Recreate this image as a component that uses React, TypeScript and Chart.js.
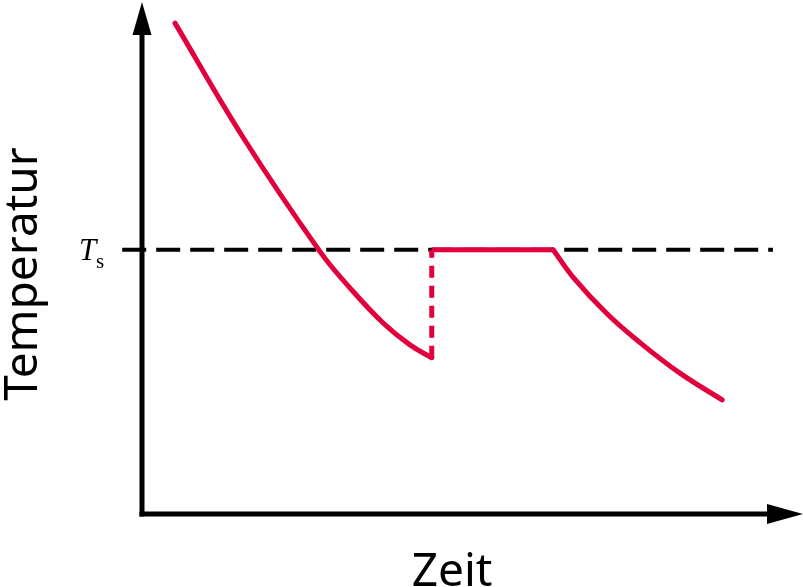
import React, { useEffect, useRef } from "react";
import { Chart, registerables } from "chart.js";

Chart.register(...registerables);

// Cooling curve with supercooling (arbitrary units: time 0..100, temperature 0..100)
const coolingTime = [5.0, 15.3, 27.0, 31.5, 36.5, 40.6, 43.9];
const coolingTemp = [95.5, 73.3, 51.0, 44.0, 37.2, 32.9, 30.4];

const solidificationTemp = 51.4; // T_s
const jumpTime = 43.9;
const plateauEndTime = 62.3;

const afterTime = [62.3, 65.3, 70.5, 75.5, 81.5, 87.9];
const afterTemp = [51.4, 46.1, 38.9, 33.3, 27.4, 22.2];

const tsLineTime = [-3.0, 95.6];

const xAxisTitle = "Zeit";
const yAxisTitle = "Temperatur";
const tsLabelMain = "T";
const tsLabelSub = "s";

const RED = "#e2003c";

const toPoints = (xs: number[], ys: number[]) => xs.map((x, i) => ({ x, y: ys[i] }));

const axesPlugin = {
  id: "arrowAxes",
  afterDatasetsDraw(chart: any) {
    const ctx: CanvasRenderingContext2D = chart.ctx;
    const xs = chart.scales.x;
    const ys = chart.scales.y;
    const ox = xs.getPixelForValue(0);
    const oy = ys.getPixelForValue(0);
    const lw = 5;
    ctx.save();
    ctx.strokeStyle = "#000";
    ctx.fillStyle = "#000";
    ctx.lineWidth = lw;
    ctx.lineCap = "butt";
    // y axis
    ctx.beginPath();
    ctx.moveTo(ox, oy + lw / 2);
    ctx.lineTo(ox, 30);
    ctx.stroke();
    ctx.beginPath();
    ctx.moveTo(ox, 2);
    ctx.lineTo(ox - 9.5, 35);
    ctx.lineTo(ox + 9.5, 35);
    ctx.closePath();
    ctx.fill();
    // x axis
    ctx.beginPath();
    ctx.moveTo(ox - lw / 2, oy);
    ctx.lineTo(770, oy);
    ctx.stroke();
    ctx.beginPath();
    ctx.moveTo(803, oy);
    ctx.lineTo(767, oy - 10);
    ctx.lineTo(767, oy + 10);
    ctx.closePath();
    ctx.fill();

    // axis titles
    ctx.font = '46px "Noto Sans"';
    ctx.textAlign = "center";
    ctx.textBaseline = "alphabetic";
    ctx.fillText(xAxisTitle, 452, 586);
    ctx.save();
    ctx.translate(37, 274);
    ctx.rotate(-Math.PI / 2);
    ctx.fillText(yAxisTitle, 0, 0);
    ctx.restore();

    // T_s label
    const ty = ys.getPixelForValue(solidificationTemp);
    ctx.textAlign = "left";
    ctx.font = 'italic 31px "Liberation Serif"';
    ctx.fillText(tsLabelMain, 79, ty + 10);
    ctx.font = '21px "Liberation Serif"';
    ctx.fillText(tsLabelSub, 96, ty + 18);
    ctx.restore();
  },
};

export default function App() {
  const ref = useRef<HTMLCanvasElement | null>(null);
  useEffect(() => {
    if (!ref.current) return;
    const chart = new Chart(ref.current, {
      type: "line",
      data: {
        datasets: [
          {
            data: toPoints(coolingTime, coolingTemp),
            borderColor: RED,
            borderWidth: 5,
            borderCapStyle: "round",
            tension: 0.4,
            pointRadius: 0,
            clip: false as any,
            order: 1,
          },
          {
            data: toPoints([jumpTime, jumpTime], [coolingTemp[coolingTemp.length - 1], solidificationTemp]),
            borderColor: RED,
            borderWidth: 5,
            borderDash: [12, 8],
            pointRadius: 0,
            clip: false as any,
            order: 1,
          },
          {
            data: toPoints([jumpTime, plateauEndTime], [solidificationTemp, solidificationTemp]),
            borderColor: RED,
            borderWidth: 5,
            borderDash: [],
            borderCapStyle: "butt",
            pointRadius: 0,
            clip: false as any,
            order: 0,
          },
          {
            data: toPoints(afterTime, afterTemp),
            borderColor: RED,
            borderWidth: 5,
            borderCapStyle: "round",
            tension: 0.4,
            pointRadius: 0,
            clip: false as any,
            order: 1,
          },
          {
            data: toPoints(tsLineTime, [solidificationTemp, solidificationTemp]),
            borderColor: "#000",
            borderWidth: 4,
            borderDash: [24, 10],
            pointRadius: 0,
            clip: false as any,
            order: 5,
          },
        ],
      },
      options: {
        animation: false,
        responsive: false,
        devicePixelRatio: 1,
        layout: { padding: { left: 142, right: 1, top: 0, bottom: 73 } },
        plugins: { legend: { display: false }, tooltip: { enabled: false } },
        scales: {
          x: { type: "linear", min: 0, max: 100, display: false },
          y: { type: "linear", min: 0, max: 100, display: false },
        },
      },
      plugins: [axesPlugin],
    });
    return () => chart.destroy();
  }, []);
  return (
    <div style={{ position: "fixed", left: 0, top: 0, width: 803, height: 587, background: "#fff" }}>
      <canvas ref={ref} width={803} height={587} style={{ width: 803, height: 587, display: "block" }} />
    </div>
  );
}
